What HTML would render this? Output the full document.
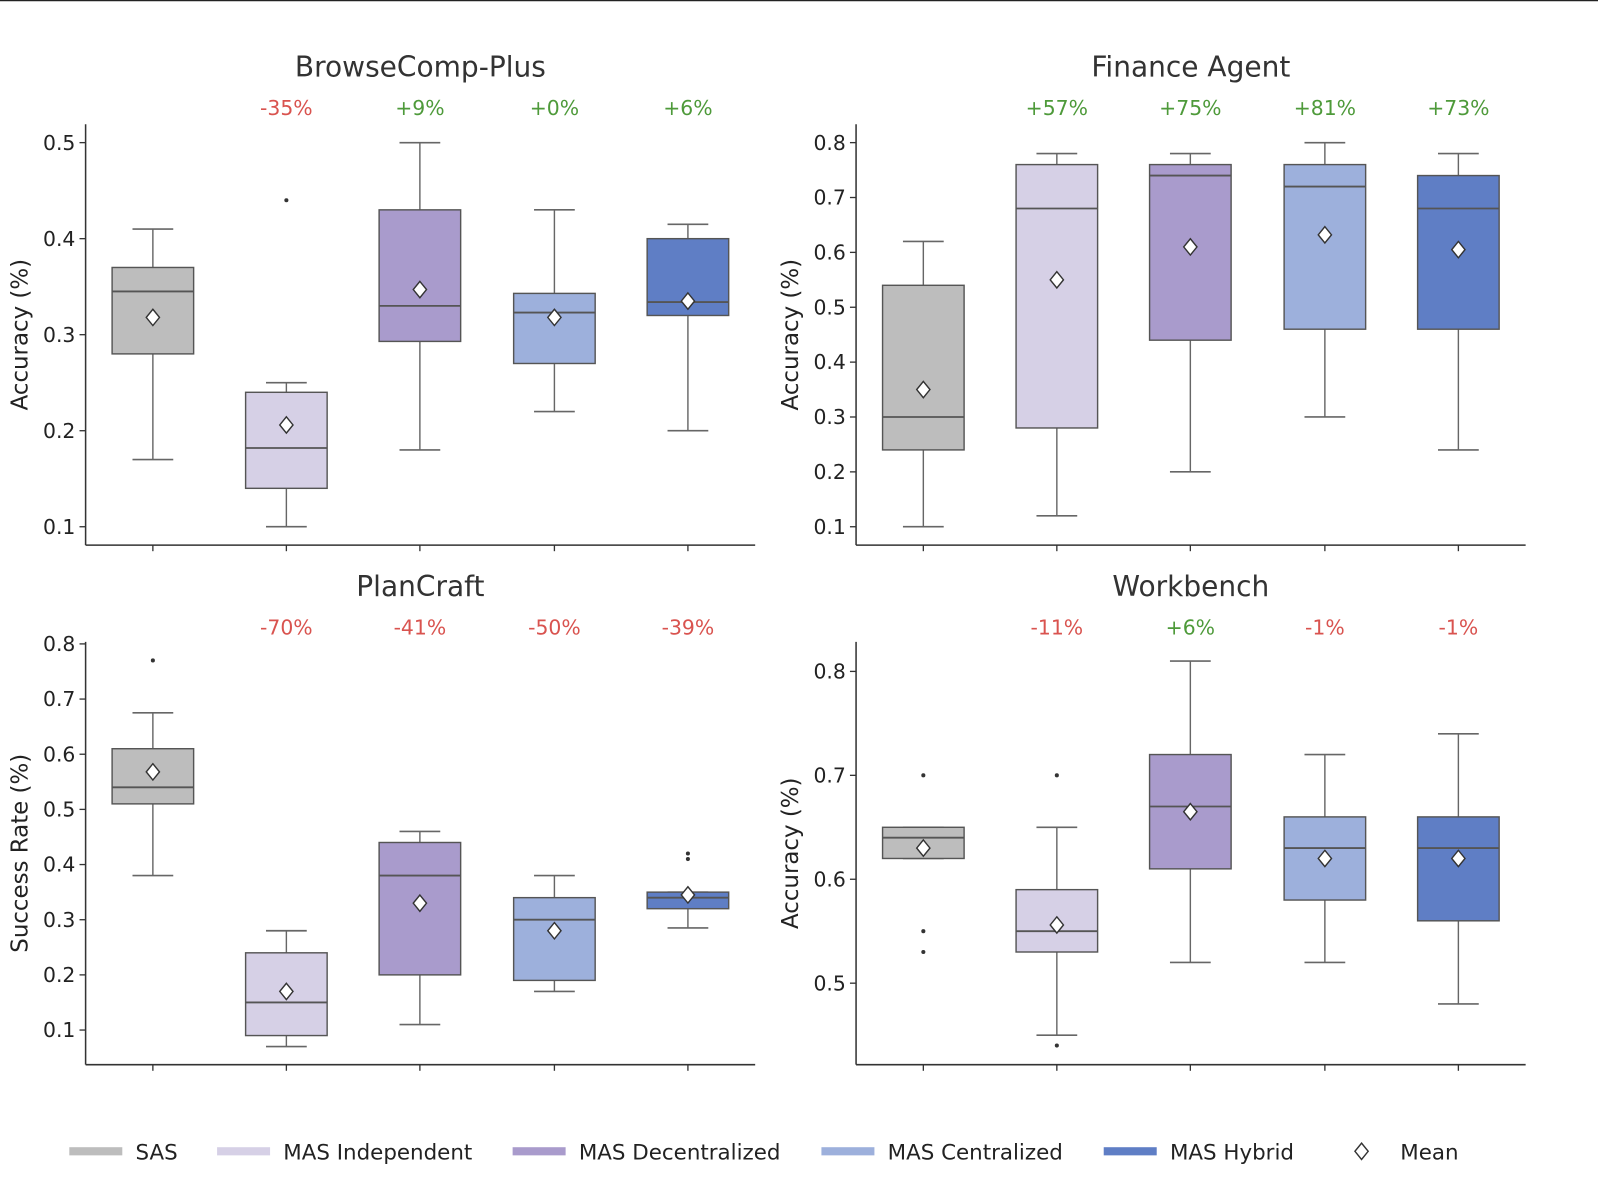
<!DOCTYPE html>
<html><head><meta charset="utf-8"><style>
html,body{margin:0;padding:0;background:#fff;}
svg{display:block;font-family:"DejaVu Sans","Liberation Sans",sans-serif;}
</style></head><body>
<svg id="chart" width="1598" height="1190" viewBox="0 0 1568 1168" preserveAspectRatio="none" xmlns="http://www.w3.org/2000/svg">
<line x1="0" y1="0.5" x2="1568" y2="0.5" stroke="#222" stroke-width="1.5"/>
<g id="g"></g>
</svg>
<script>
const categories = ["SAS","MAS Independent","MAS Decentralized","MAS Centralized","MAS Hybrid"];
const colors = ["#bdbdbd","#d6d0e6","#a99bcc","#9db0dc","#5f7ec5"];
// [whiskerLow, q1, median, q3, whiskerHigh, mean]
const bcStats = [[.17,.28,.345,.37,.41,.318],[.10,.14,.182,.24,.25,.206],[.18,.293,.33,.43,.50,.347],[.22,.27,.323,.343,.43,.318],[.20,.32,.334,.40,.415,.335]];
const bcOutliers = [[],[.44],[],[],[]];
const bcDeltas = ["","-35%","+9%","+0%","+6%"];
const faStats = [[.10,.24,.30,.54,.62,.35],[.12,.28,.68,.76,.78,.55],[.20,.44,.74,.76,.78,.61],[.30,.46,.72,.76,.80,.632],[.24,.46,.68,.74,.78,.605]];
const faOutliers = [[],[],[],[],[]];
const faDeltas = ["","+57%","+75%","+81%","+73%"];
const pcStats = [[.38,.51,.54,.61,.675,.568],[.07,.09,.15,.24,.28,.17],[.11,.20,.38,.44,.46,.33],[.17,.19,.30,.34,.38,.28],[.285,.32,.34,.35,.35,.345]];
const pcOutliers = [[.77],[],[],[],[.41,.42]];
const pcDeltas = ["","-70%","-41%","-50%","-39%"];
const wbStats = [[.62,.62,.64,.65,.65,.63],[.45,.53,.55,.59,.65,.556],[.52,.61,.67,.72,.81,.665],[.52,.58,.63,.66,.72,.62],[.48,.56,.63,.66,.74,.62]];
const wbOutliers = [[.70,.55,.53],[.70,.44],[],[],[]];
const wbDeltas = ["","-11%","+6%","-1%","-1%"];
const bcTicks = [0.1,0.2,0.3,0.4,0.5];
const faTicks = [0.1,0.2,0.3,0.4,0.5,0.6,0.7,0.8];
const pcTicks = [0.1,0.2,0.3,0.4,0.5,0.6,0.7,0.8];
const wbTicks = [0.5,0.6,0.7,0.8];

const NS="http://www.w3.org/2000/svg";
const G=document.getElementById('g');
function mk(tag,attrs,parent,text){const e=document.createElementNS(NS,tag);for(const k in attrs)e.setAttribute(k,attrs[k]);if(text!==undefined)e.textContent=text;(parent||G).appendChild(e);return e;}

const panels=[
 {name:"browsecomp-plus",title:"BrowseComp-Plus",ylabel:"Accuracy (%)",left:84,right:741,top:122,bottom:535,v0:0.1,p0:517,v1:0.5,p1:140,stats:bcStats,out:bcOutliers,deltas:bcDeltas,ticks:bcTicks,cx:[150,281,412,544,675],titleY:66,dY:105,ylx:20},
 {name:"finance-agent",title:"Finance Agent",ylabel:"Accuracy (%)",left:840,right:1497,top:122,bottom:535,v0:0.1,p0:517,v1:0.8,p1:140,stats:faStats,out:faOutliers,deltas:faDeltas,ticks:faTicks,cx:[906,1037,1168,1300,1431],titleY:66,dY:105,ylx:776},
 {name:"plancraft",title:"PlanCraft",ylabel:"Success Rate (%)",left:84,right:741,top:630,bottom:1045,v0:0.1,p0:1011,v1:0.8,p1:632,stats:pcStats,out:pcOutliers,deltas:pcDeltas,ticks:pcTicks,cx:[150,281,412,544,675],titleY:576,dY:615,ylx:20},
 {name:"workbench",title:"Workbench",ylabel:"Accuracy (%)",left:840,right:1497,top:630,bottom:1045,v0:0.5,p0:965,v1:0.8,p1:659,stats:wbStats,out:wbOutliers,deltas:wbDeltas,ticks:wbTicks,cx:[906,1037,1168,1300,1431],titleY:576,dY:615,ylx:776}
];
const BW=80, CAP=40;
function diamond(x,y,parent){return mk('polygon',{points:`${x},${y-8} ${x+6.5},${y} ${x},${y+8} ${x-6.5},${y}`,fill:'#fff',stroke:'#333','stroke-width':1.4},parent);}
panels.forEach(p=>{
 const y=v=>p.p0+(v-p.v0)*(p.p1-p.p0)/(p.v1-p.v0);
 const g=mk('g',{});
 
 
 const t=mk('text',{x:(p.left+p.right)/2,y:p.titleY+9,'text-anchor':'middle','font-size':27.5,fill:'#333'},g,p.title);
 
 const yl=mk('text',{x:p.ylx,y:(p.top+p.bottom)/2,'text-anchor':'middle','font-size':22.5,fill:'#222',transform:`rotate(-90 ${p.ylx} ${(p.top+p.bottom)/2})`,'dominant-baseline':'central'},g,p.ylabel);
 
 mk('line',{x1:p.left,y1:p.top,x2:p.left,y2:p.bottom,stroke:'#333','stroke-width':1.5},g);
 mk('line',{x1:p.left,y1:p.bottom,x2:p.right,y2:p.bottom,stroke:'#333','stroke-width':1.5},g);
 p.ticks.forEach(v=>{
  mk('line',{x1:p.left-6,y1:y(v),x2:p.left,y2:y(v),stroke:'#333','stroke-width':1.3},g);
  const tl=mk('text',{x:p.left-10,y:y(v)+7,'text-anchor':'end','font-size':20,fill:'#222'},g,v.toFixed(1));
  
 });
 p.stats.forEach((s,i)=>{
  const x=p.cx[i];
  mk('line',{x1:x,y1:p.bottom,x2:x,y2:p.bottom+6,stroke:'#333','stroke-width':1.3},g);
  const bg=mk('g',{},g);
  
  
  mk('line',{x1:x,y1:y(s[0]),x2:x,y2:y(s[1]),stroke:'#666','stroke-width':1.4},bg);
  mk('line',{x1:x,y1:y(s[3]),x2:x,y2:y(s[4]),stroke:'#666','stroke-width':1.4},bg);
  mk('line',{x1:x-CAP/2,y1:y(s[0]),x2:x+CAP/2,y2:y(s[0]),stroke:'#666','stroke-width':1.6},bg);
  mk('line',{x1:x-CAP/2,y1:y(s[4]),x2:x+CAP/2,y2:y(s[4]),stroke:'#666','stroke-width':1.6},bg);
  mk('rect',{x:x-BW/2,y:y(s[3]),width:BW,height:Math.max(1,y(s[1])-y(s[3])),fill:colors[i],stroke:'#555','stroke-width':1.4},bg);
  mk('line',{x1:x-BW/2,y1:y(s[2]),x2:x+BW/2,y2:y(s[2]),stroke:'#555','stroke-width':1.8},bg);
  p.out[i].forEach(o=>mk('circle',{cx:x,cy:y(o),r:2,fill:'#333'},bg));
  diamond(x,y(s[5]),bg);
  if(p.deltas[i]){
   const d=mk('text',{x:x,y:p.dY+8,'text-anchor':'middle','font-size':20,fill:p.deltas[i][0]==='-'?'#d9534f':'#4e9a3a'},g,p.deltas[i]);
   
  }
 });
});
const lg=mk('g',{});


const legX=[68,213,503,806,1083];
categories.forEach((c,i)=>{
 const e=mk('g',{},lg);
 
 
 mk('rect',{x:legX[i],y:1126,width:52,height:8,fill:colors[i]},e);
 mk('text',{x:legX[i]+65,y:1138,'font-size':21,fill:'#222'},e,c);
});
const me=mk('g',{},lg);


diamond(1336,1130,me);
mk('text',{x:1374,y:1138,'font-size':21,fill:'#222'},me,'Mean');
</script>
</body></html>
